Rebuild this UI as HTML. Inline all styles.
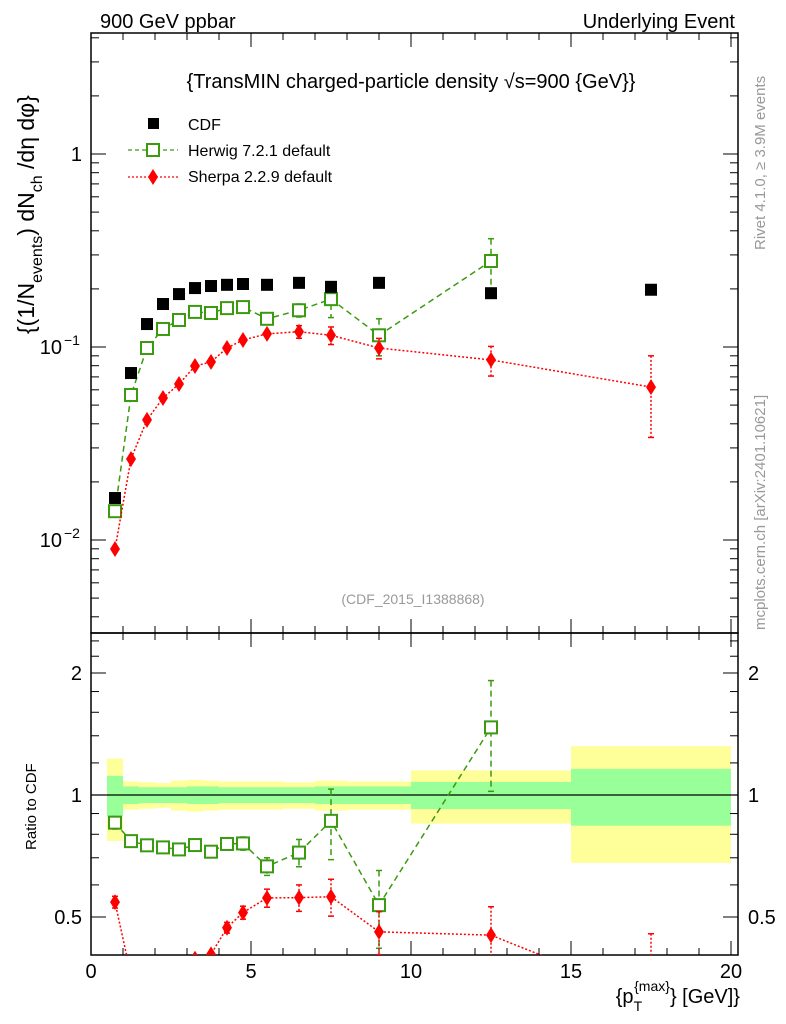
<!DOCTYPE html>
<html><head><meta charset="utf-8"><style>
html,body{margin:0;padding:0;background:#fff;overflow:hidden;width:786px;height:1024px;}
svg{display:block;font-family:"Liberation Sans",Arial,sans-serif;}
</style></head><body>
<svg id="c" width="786" height="1024" viewBox="0 0 786 1024" xmlns="http://www.w3.org/2000/svg">
<defs>
<clipPath id="clipMain"><rect x="91" y="33" width="647" height="600"/></clipPath>
<clipPath id="clipRatio"><rect x="91" y="633" width="647" height="322"/></clipPath>
</defs>
<text x="100" y="28" font-size="20">900 GeV ppbar</text>
<text x="735" y="28" font-size="20" text-anchor="end">Underlying Event</text>
<text x="411" y="88" font-size="20" text-anchor="middle">{TransMIN charged-particle density √s=900 {GeV}}</text>
<text x="413" y="604" font-size="14" fill="#999" text-anchor="middle">(CDF_2015_I1388868)</text>
<text transform="translate(765,250) rotate(-90)" font-size="15" fill="#999">Rivet 4.1.0, ≥ 3.9M events</text>
<text transform="translate(765,630) rotate(-90)" font-size="15" fill="#999">mcplots.cern.ch [arXiv:2401.10621]</text>
<text transform="translate(34,334) rotate(-90)" font-size="23">{(1/N<tspan font-size="16" dy="8">events</tspan><tspan dy="-8">) dN</tspan><tspan font-size="16" dy="8">ch</tspan><tspan dy="-8"> /dη  dφ}</tspan></text>
<text transform="translate(36,850) rotate(-90)" font-size="15">Ratio to CDF</text>
<text x="740" y="1003" font-size="20" text-anchor="end">{p<tspan font-size="14" dy="8">T</tspan><tspan font-size="14" dy="-20" dx="-8">{max}</tspan><tspan dy="12">} [GeV]}</tspan></text>
<g id="g"></g>
</svg>
<script>
const binEdges=[0.5,1,1.5,2,2.5,3,3.5,4,4.5,5,6,7,8,10,15,20];
const xCenters=[0.75,1.25,1.75,2.25,2.75,3.25,3.75,4.25,4.75,5.5,6.5,7.5,9,12.5,17.5];
const cdfValues=[0.0165,0.0733,0.1315,0.167,0.188,0.202,0.207,0.21,0.212,0.21,0.215,0.205,0.215,0.19,0.198];
const herwigValues=[0.0141,0.0564,0.0988,0.124,0.138,0.152,0.15,0.159,0.161,0.14,0.155,0.177,0.115,0.279];
const herwigErr=[0.0005,0.001,0.001,0.002,0.002,0.003,0.003,0.005,0.006,0.007,0.012,0.035,0.025,0.085];
const sherpaValues=[0.00898,0.0263,0.0419,0.0544,0.0643,0.0797,0.0837,0.0988,0.1087,0.117,0.12,0.115,0.0988,0.0857,0.062];
const sherpaErr=[0.0003,0.0005,0.001,0.001,0.0015,0.002,0.002,0.003,0.004,0.006,0.009,0.012,0.012,0.015,0.028];
const bandTotal=[0.23,0.08,0.075,0.07,0.085,0.09,0.085,0.08,0.08,0.08,0.075,0.085,0.08,0.15,0.32];
const bandStat=[0.115,0.05,0.045,0.045,0.045,0.05,0.05,0.045,0.045,0.045,0.045,0.05,0.05,0.077,0.16];
const mainTicks=[0.01,0.1,1];
const mainTickLabels=["10","10","1"];
const mainTickExp=["−2","−1",""];
const ratioTicks=[0.5,1,2];
const ratioTickLabels=["0.5","1","2"];
const xTicks=[0,5,10,15,20];
const xTickLabels=["0","5","10","15","20"];

const NS="http://www.w3.org/2000/svg";
const G=document.getElementById('g');
const X0=91,X1=738,YT=33,YS=633,YB=955;
const sx=v=>91+32*v;
const sy=v=>154-193*Math.log10(v);
const sr=v=>795-122*Math.log2(v);
function mk(tag,attrs,parent){const e=document.createElementNS(NS,tag);for(const k in attrs)e.setAttribute(k,attrs[k]);(parent||G).appendChild(e);return e;}

const bandG=mk('g',{'clip-path':'url(#clipRatio)'});
for(let i=0;i<bandTotal.length;i++){
  const a=sx(binEdges[i]),b=sx(binEdges[i+1]);
  const y1=mk('rect',{x:a,y:sr(1+bandTotal[i]),width:b-a,height:sr(1-bandTotal[i])-sr(1+bandTotal[i]),fill:'#ffff99'},bandG);
  
  
  const g1=mk('rect',{x:a,y:sr(1+bandStat[i]),width:b-a,height:sr(1-bandStat[i])-sr(1+bandStat[i]),fill:'#99ff99'},bandG);
  
  
}
mk('line',{x1:X0,x2:X1,y1:sr(1),y2:sr(1),stroke:'#000','stroke-width':1.2});

mk('rect',{x:X0,y:YT,width:X1-X0,height:YS-YT,fill:'none',stroke:'#000','stroke-width':1.5});
mk('rect',{x:X0,y:YS,width:X1-X0,height:YB-YS,fill:'none',stroke:'#000','stroke-width':1.5});

for(let v=0;v<=20;v+=1){
  const x=sx(v),maj=v%5===0,L=maj?14:7;
  for(const [y,d] of [[YT,1],[YS,-1],[YS,1],[YB,-1]]) mk('line',{x1:x,x2:x,y1:y,y2:y+d*L,stroke:'#000','stroke-width':1});
}
xTicks.forEach((v,i)=>{const t=mk('text',{x:sx(v),y:978,'font-size':20,'text-anchor':'middle'});t.textContent=xTickLabels[i];

});

for(let d=-3;d<=0;d++)for(let m=1;m<=9;m++){const v=m*Math.pow(10,d);const y=sy(v);if(y<YT||y>YS)continue;const L=m===1?15:8;
  mk('line',{x1:X0,x2:X0+L,y1:y,y2:y,stroke:'#000'});mk('line',{x1:X1,x2:X1-L,y1:y,y2:y,stroke:'#000'});}
mainTicks.forEach((v,i)=>{const t=mk('text',{x:mainTickExp[i]?62:82,y:sy(v)+7,'font-size':20,'text-anchor':'end'});t.textContent=mainTickLabels[i];


if(mainTickExp[i]){const e=mk('text',{x:64,y:sy(v)-2,'font-size':14});e.textContent=mainTickExp[i];

}});

[0.4,0.5,0.6,0.7,0.8,0.9,1,1.2,1.4,1.6,1.8,2,2.2,2.4].forEach(v=>{const y=sr(v);if(y<YS||y>YB)return;const L=(v===0.5||v===1||v===2)?15:8;
  mk('line',{x1:X0,x2:X0+L,y1:y,y2:y,stroke:'#000'});mk('line',{x1:X1,x2:X1-L,y1:y,y2:y,stroke:'#000'});});
ratioTicks.forEach((v,i)=>{const t=mk('text',{x:82,y:sr(v)+7,'font-size':20,'text-anchor':'end'});t.textContent=ratioTickLabels[i];


const r=mk('text',{x:748,y:sr(v)+7,'font-size':20});r.textContent=ratioTickLabels[i];

});

function series(vals,errs,xs,ysFn,color,dash,kind,clip,name){
  const g=mk('g',{'clip-path':clip});
  
  
  const pts=vals.map((v,i)=>sx(xs[i])+','+ysFn(v,i)).join(' ');
  mk('polyline',{points:pts,fill:'none',stroke:color,'stroke-width':1.5,'stroke-dasharray':dash},g);
  vals.forEach((v,i)=>{const x=sx(xs[i]);const y=ysFn(v,i);
    if(errs){const lo=ysFn(Math.max(v-errs[i],1e-5),i),hi=ysFn(v+errs[i],i);
      if(lo-hi>9){mk('line',{x1:x,x2:x,y1:hi,y2:lo,stroke:color,'stroke-width':1.5,'stroke-dasharray':dash},g);
        mk('line',{x1:x-3,x2:x+3,y1:hi,y2:hi,stroke:color,'stroke-width':1.5},g);mk('line',{x1:x-3,x2:x+3,y1:lo,y2:lo,stroke:color,'stroke-width':1.5},g);}}
    let m;
    if(kind==='sq') m=mk('rect',{x:x-6,y:y-6,width:12,height:12,fill:'#fff',stroke:color,'stroke-width':2},g);
    else if(kind==='dia') m=mk('polygon',{points:`${x},${y-8} ${x+5},${y} ${x},${y+8} ${x-5},${y}`,fill:color},g);
    else m=mk('rect',{x:x-6,y:y-6,width:12,height:12,fill:color},g);
    
    
  });
}
series(herwigValues,herwigErr,xCenters,v=>sy(v),'#3a9a10','6,4','sq','url(#clipMain)','herwig-series');
series(sherpaValues,sherpaErr,xCenters,v=>sy(v),'#ff0000','2,2','dia','url(#clipMain)','sherpa-series');
const cdfG=mk('g',{'clip-path':'url(#clipMain)'});
cdfValues.forEach((v,i)=>{const r=mk('rect',{x:sx(xCenters[i])-6,y:sy(v)-6,width:12,height:12,fill:'#000'},cdfG);

});
const hR=herwigValues.map((v,i)=>v/cdfValues[i]);
const hRe=herwigErr.map((e,i)=>e/cdfValues[i]);
const sR=sherpaValues.map((v,i)=>v/cdfValues[i]);
const sRe=sherpaErr.map((e,i)=>e/cdfValues[i]);
series(hR,hRe,xCenters,v=>sr(v),'#3a9a10','6,4','sq','url(#clipRatio)','herwig-ratio');
series(sR,sRe,xCenters,v=>sr(v),'#ff0000','2,2','dia','url(#clipRatio)','sherpa-ratio');

const lg=mk('g',{});


mk('rect',{x:148,y:118,width:11,height:11,fill:'#000'},lg);
mk('line',{x1:128,x2:178,y1:150,y2:150,stroke:'#3a9a10','stroke-width':1.3,'stroke-dasharray':'4,3'},lg);
mk('rect',{x:147,y:144,width:12,height:12,fill:'#fff',stroke:'#3a9a10','stroke-width':2},lg);
mk('line',{x1:128,x2:178,y1:177,y2:177,stroke:'#ff0000','stroke-width':1.3,'stroke-dasharray':'2,2'},lg);
mk('polygon',{points:'153,169 158,177 153,185 148,177',fill:'#ff0000'},lg);
[['CDF',130],['Herwig 7.2.1 default',156],['Sherpa 2.2.9 default',182]].forEach(([s,y])=>{const t=mk('text',{x:188,y:y,'font-size':16},lg);t.textContent=s;

});
</script>
</body></html>
